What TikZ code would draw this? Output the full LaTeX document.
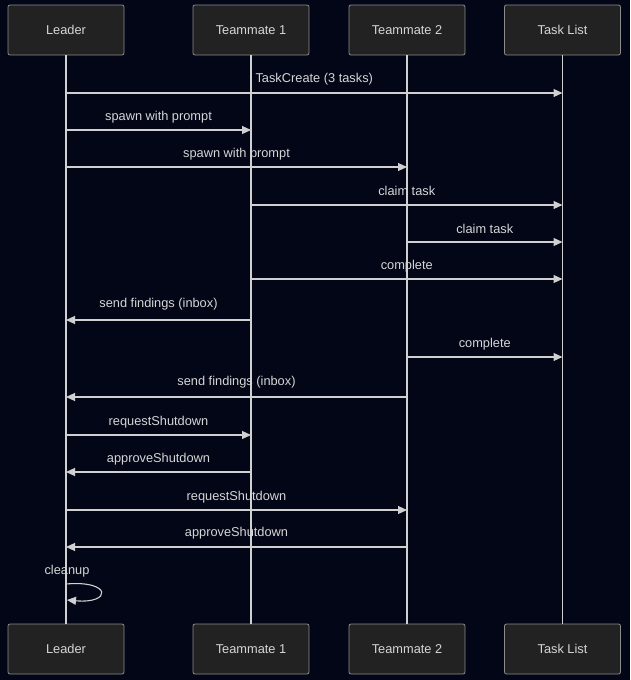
\documentclass[tikz,border=0pt]{standalone}
\usepackage{fontspec}
\setmainfont{Liberation Sans}
\usetikzlibrary{arrows.meta,calc}
\definecolor{bg}{HTML}{020617}
\definecolor{boxfill}{HTML}{222222}
\definecolor{boxline}{HTML}{8C8C8C}
\definecolor{txt}{HTML}{D6D6D6}
\definecolor{ln}{HTML}{D0D0D0}
\begin{document}
\begin{tikzpicture}[x=1pt,y=-1pt,
  actor/.style={draw=boxline,fill=boxfill,rounded corners=2pt,minimum width=116pt,minimum height=50pt,text=txt,font=\fontsize{12.8}{15}\selectfont,line width=0.8pt},
  life/.style={draw=ln,line width=1.1pt},
  msg/.style={draw=ln,line width=1.1pt,-{Triangle[length=9pt,width=8pt]}},
  lbl/.style={text=txt,font=\fontsize{12.8}{15}\selectfont,inner sep=0pt}]
\fill[bg] (0,0) rectangle (630,680);
\useasboundingbox (0,0) rectangle (630,680);
\node[actor] (L) at (66,30) {Leader};
\node[actor] (T1) at (251,30) {Teammate 1};
\node[actor] (T2) at (407,30) {Teammate 2};
\node[actor] (TL) at (562.5,30) {Task List};
\node[actor] (Lb) at (66,649) {Leader};
\node[actor] (T1b) at (251,649) {Teammate 1};
\node[actor] (T2b) at (407,649) {Teammate 2};
\node[actor] (TLb) at (562.5,649) {Task List};
\draw[life] (L.south) -- (Lb.north);
\draw[life] (T1.south) -- (T1b.north);
\draw[life] (T2.south) -- (T2b.north);
\draw[life] (TL.south) -- (TLb.north);
% messages
\foreach \y/\a/\b/\t/\ly in {
  93/L/TL/{TaskCreate (3 tasks)}/79,
  130/L/T1/{spawn with prompt}/117,
  167/L/T2/{spawn with prompt}/154,
  205/T1/TL/{claim task}/191,
  242/T2/TL/{claim task}/229,
  279/T1/TL/{complete}/266,
  320/T1/L/{send findings (inbox)}/304,
  357/T2/TL/{complete}/344,
  397/T2/L/{send findings (inbox)}/382,
  435/L/T1/{requestShutdown}/422,
  472/T1/L/{approveShutdown}/459,
  510/L/T2/{requestShutdown}/497,
  547/T2/L/{approveShutdown}/533}{
  \coordinate (s) at (\a.south |- 0,\y);
  \coordinate (e) at (\b.south |- 0,\y);
  \draw[msg] (s) -- (e);
  \node[lbl] at ($(s)!0.5!(e) + (0,\ly-\y)$) {\t};
}
\coordinate (c1) at (66,584);
\coordinate (c2) at (67,600);
\draw[msg] (c1) .. controls (112,580) and (112,604) .. (c2);
\node[lbl] (cl) at (67,571) {cleanup};
\end{tikzpicture}
\end{document}
